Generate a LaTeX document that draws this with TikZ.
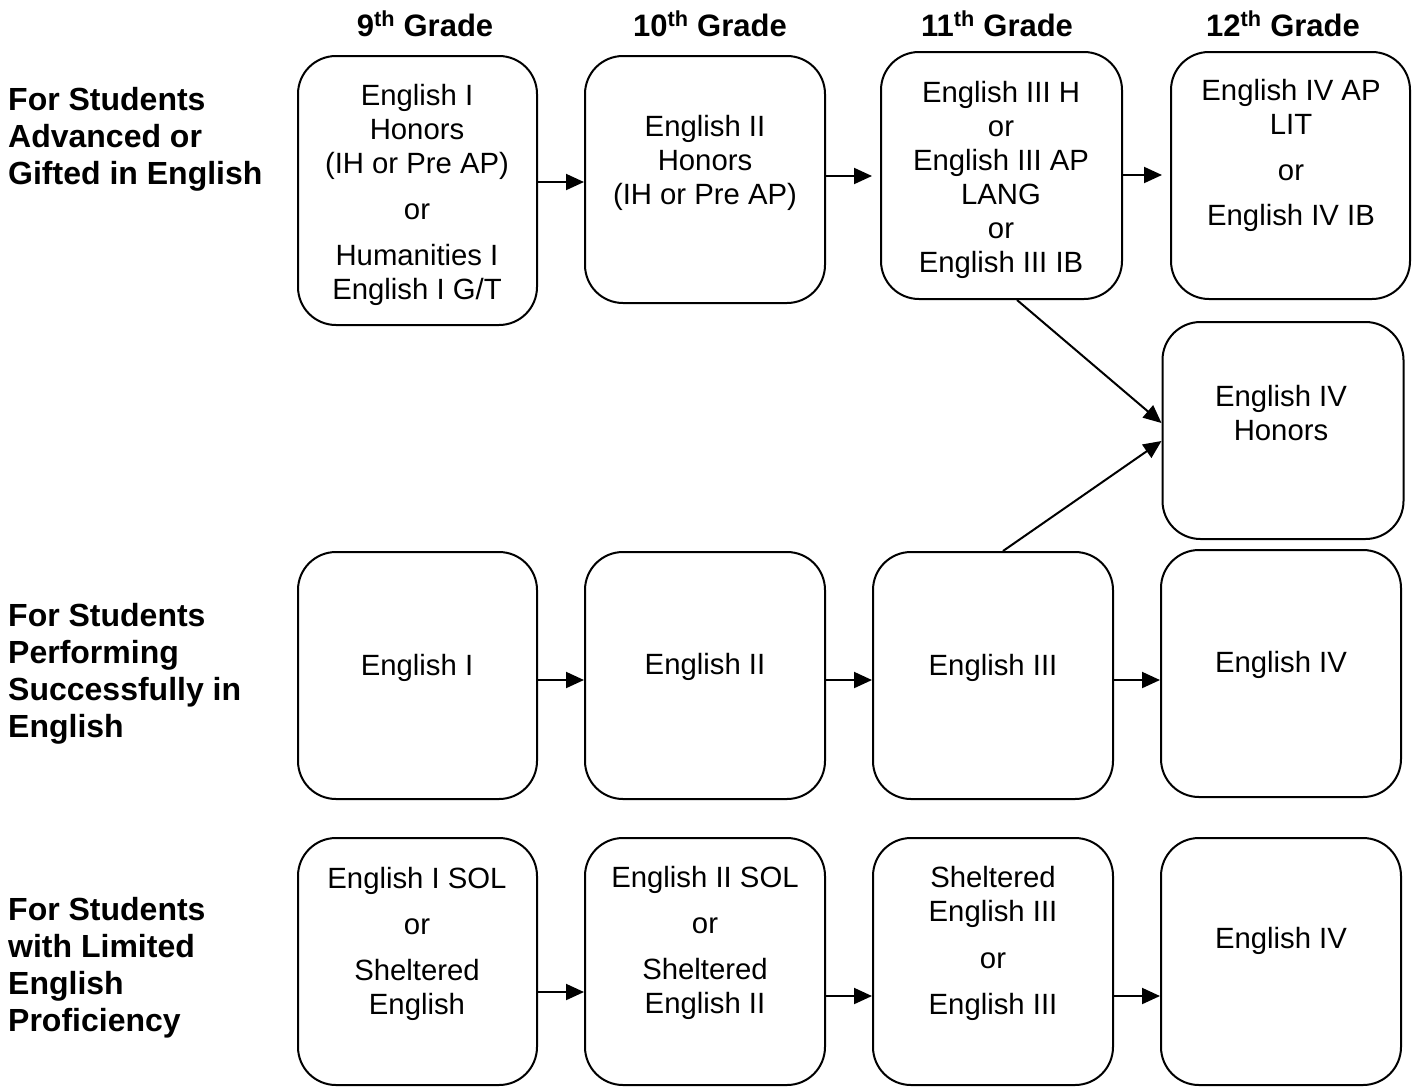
\documentclass[tikz,border=0pt]{standalone}
\usepackage{fontspec}
\setmainfont{Liberation Sans}
\usetikzlibrary{arrows.meta}
\begin{document}
\begin{tikzpicture}[x=1pt,y=-1pt,
  box/.style={draw, line width=2pt, rounded corners=38pt, inner sep=0pt, minimum width=240pt, minimum height=247pt},
  txt/.style={font=\fontsize{29.3}{34}\selectfont, align=center, inner sep=0pt, anchor=north},
  lbl/.style={font=\fontsize{32}{37}\selectfont\bfseries, align=left, inner sep=0pt, anchor=north west},
  hdr/.style={font=\fontsize{31}{37}\selectfont\bfseries, inner sep=0pt, anchor=base},
  arr/.style={line width=2pt, -{Triangle[length=18pt,width=16pt]}}]
\useasboundingbox (0,0) rectangle (1417,1088);

% headers
\node[hdr] (h9)  at (425,36)  {9\textsuperscript{th} Grade};
\node[hdr] (h10) at (710,36)  {10\textsuperscript{th} Grade};
\node[hdr] (h11) at (997,36)  {11\textsuperscript{th} Grade};
\node[hdr] (h12) at (1283,36) {12\textsuperscript{th} Grade};

% row labels
\node[lbl] (l1) at (8,87)  {For Students\\Advanced or\\Gifted in English};
\node[lbl] (l2) at (8,603) {For Students\\Performing\\Successfully in\\English};
\node[lbl] (l3) at (8,897) {For Students\\with Limited\\English\\Proficiency};

% boxes
\node[box, minimum width=239pt, minimum height=269pt] (A1) at (417.5,190.5) {};
\node[box] (A2) at (705,179.5) {};
\node[box, minimum width=241pt] (A3) at (1001.5,175.5) {};
\node[box, minimum width=239pt] (A4) at (1290.5,175.5) {};
\node[box, minimum width=241pt, minimum height=217pt] (A5) at (1283,430.5) {};
\node[box, minimum width=239pt] (B1) at (417.5,675.5) {};
\node[box] (B2) at (705,675.5) {};
\node[box] (B3) at (993,675.5) {};
\node[box] (B4) at (1281,673.5) {};
\node[box, minimum width=239pt] (C1) at (417.5,961.5) {};
\node[box] (C2) at (705,961.5) {};
\node[box] (C3) at (993,961.5) {};
\node[box] (C4) at (1281,961.5) {};

% texts
\node[txt] (tA1) at (417,84.5) {English I\\Honors\\(IH or Pre AP)\\[12pt]or\\[12pt]Humanities I\\English I G/T};
\node[txt] (tA2) at (705,115.5) {English II\\Honors\\(IH or Pre AP)};
\node[txt] (tA3) at (1001,81.5) {English III H\\or\\English III AP\\LANG\\or\\English III IB};
\node[txt] (tA4) at (1291,79.5) {English IV AP\\LIT\\[12pt]or\\[11pt]English IV IB};
\node[txt] (tA5) at (1281,385.5) {English IV\\Honors};
\node[txt] (tB1) at (417,654.5) {English I};
\node[txt] (tB2) at (705,653.5) {English II};
\node[txt] (tB3) at (993,654.5) {English III};
\node[txt] (tB4) at (1281,651.5) {English IV};
\node[txt] (tC1) at (417,867.5) {English I SOL\\[12pt]or\\[12pt]Sheltered\\English};
\node[txt] (tC2) at (705,866.5) {English II SOL\\[12pt]or\\[12pt]Sheltered\\English II};
\node[txt] (tC3) at (993,866.5) {Sheltered\\English III\\[13pt]or\\[12pt]English III};
\node[txt] (tC4) at (1281,927.5) {English IV};

% arrow levels
\coordinate (y1) at (0,182);
\coordinate (y2) at (0,176);
\coordinate (y3) at (0,175);
\coordinate (yb) at (0,680);
\coordinate (yc1) at (0,992);
\coordinate (yc2) at (0,996);

\draw[arr] (A1.east |- y1) -- (A2.west |- y1);
\draw[arr, shorten >=8pt] (A2.east |- y2) -- (A3.west |- y2);
\draw[arr, shorten >=8pt] (A3.east |- y3) -- (A4.west |- y3);
\draw[arr] ([xshift=15.5pt]A3.south) -- ([yshift=7.5pt]A5.west);
\draw[arr] ([xshift=10pt]B3.north) -- ([yshift=-10.5pt]A5.west);
\draw[arr] (B1.east |- yb) -- (B2.west |- yb);
\draw[arr] (B2.east |- yb) -- (B3.west |- yb);
\draw[arr] (B3.east |- yb) -- (B4.west |- yb);
\draw[arr] (C1.east |- yc1) -- (C2.west |- yc1);
\draw[arr] (C2.east |- yc2) -- (C3.west |- yc2);
\draw[arr] (C3.east |- yc2) -- (C4.west |- yc2);
\end{tikzpicture}
\end{document}
